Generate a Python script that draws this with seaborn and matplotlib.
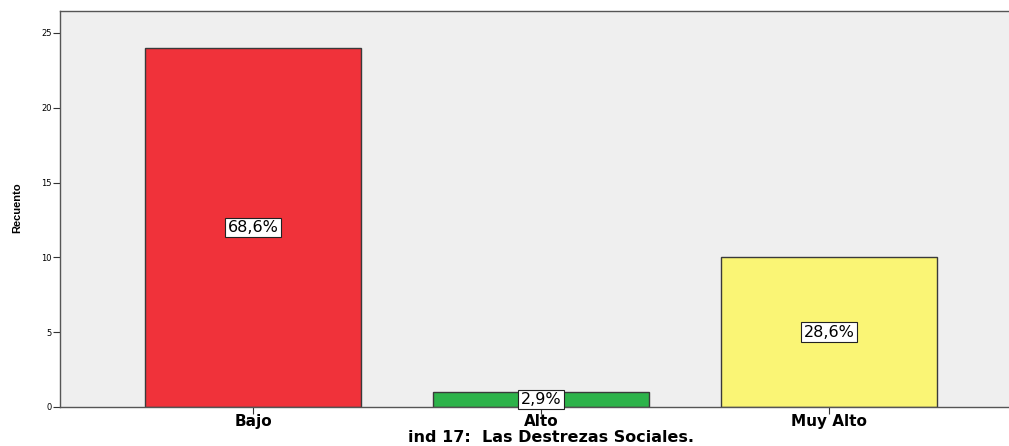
import pandas as pd
import seaborn as sns
import matplotlib.pyplot as plt

# %%

categorias = ['Bajo', 'Alto', 'Muy Alto']
recuento = [24, 1, 10]
porcentajes = ['68,6%', '2,9%', '28,6%']
colores = ['#F0323A', '#2DB34A', '#FAF575']

df = pd.DataFrame({'categoria': categorias, 'recuento': recuento})

# %%

sns.set_style('ticks')
plt.rcParams['font.family'] = ['DejaVu Sans']
plt.rcParams['text.color'] = 'black'
plt.rcParams['axes.labelcolor'] = 'black'
plt.rcParams['xtick.color'] = 'black'
plt.rcParams['ytick.color'] = 'black'

fig = plt.figure(figsize=(10.09, 4.46), dpi=100)
ax = fig.add_axes([60 / 1009, 1 - 407 / 446, 962 / 1009, 396 / 446])
ax.set_facecolor('#EFEFEF')

sns.barplot(data=df, x='categoria', y='recuento', hue='categoria',
            palette=colores, saturation=1, width=0.75, edgecolor='#3a3a3a',
            linewidth=1, legend=False, ax=ax)

for i, (v, p) in enumerate(zip(recuento, porcentajes)):
    ax.text(i, v / 2, p, ha='center', va='center', fontsize=11.5,
            bbox=dict(boxstyle='square,pad=0.15', facecolor='white',
                      edgecolor='#222222', linewidth=0.8))

ax.set_xlim(-0.67, 2.67)
ax.set_ylim(0, 26.47)
ax.set_yticks([0, 5, 10, 15, 20, 25])
ax.tick_params(axis='y', labelsize=6, length=5, width=0.8, color='#333333', pad=1)
ax.tick_params(axis='x', labelsize=11, length=5, width=0.8, color='#333333', pad=0)
for lab in ax.get_xticklabels():
    lab.set_fontweight('bold')

ax.set_xlabel('ind 17:  Las Destrezas Sociales.', fontsize=11.5, fontweight='bold')
ax.xaxis.set_label_coords(551 / 1009, 1 - 430 / 446, transform=fig.transFigure)
ax.set_ylabel('Recuento', fontsize=8, fontweight='bold',
              fontfamily='Liberation Sans')
ax.yaxis.set_label_coords(22 / 1009, 1 - 208 / 446, transform=fig.transFigure)

for s in ['left', 'bottom', 'top']:
    ax.spines[s].set_color('#555555')
    ax.spines[s].set_linewidth(1)
ax.spines['right'].set_visible(False)

fig.savefig('out.png', dpi=100)
